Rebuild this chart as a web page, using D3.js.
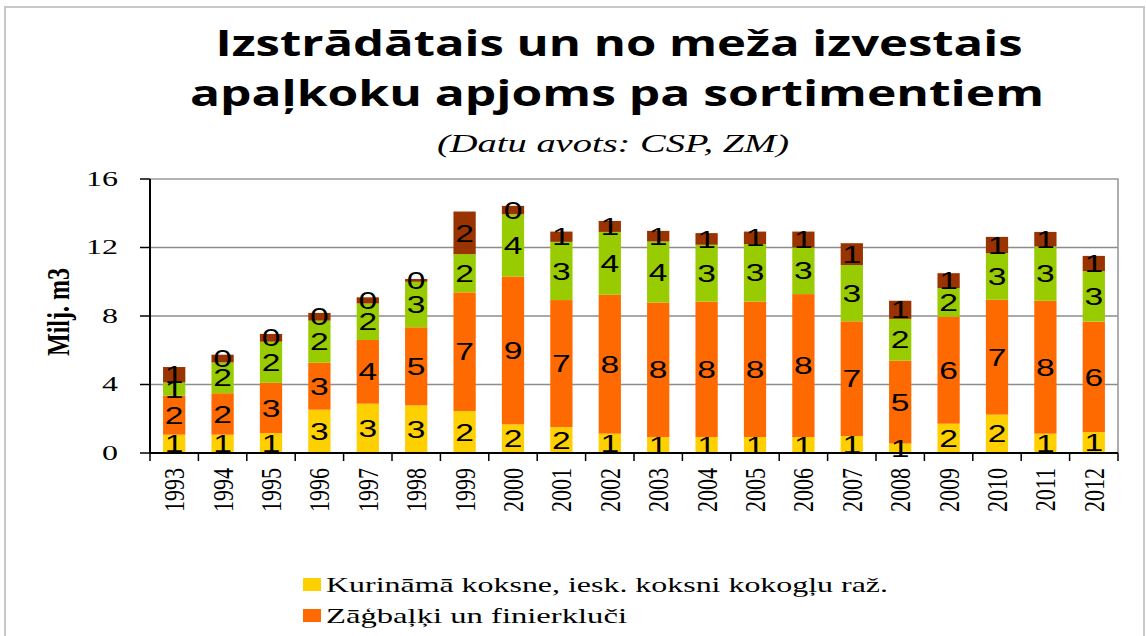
<!DOCTYPE html>
<html>
<head>
<meta charset="utf-8">
<script src="https://cdnjs.cloudflare.com/ajax/libs/d3/7.8.5/d3.min.js"></script>
<style>
body { margin: 0; background: #fff; }
</style>
</head>
<body>
<script>
// data (milj. m3)
var years = [1993, 1994, 1995, 1996, 1997, 1998, 1999, 2000, 2001, 2002,
             2003, 2004, 2005, 2006, 2007, 2008, 2009, 2010, 2011, 2012];
var kurinama   = [1.07, 1.07, 1.16, 2.53, 2.88, 2.78, 2.45, 1.67, 1.51, 1.13,
                  0.93, 0.93, 0.93, 0.93, 0.99, 0.55, 1.71, 2.24, 1.13, 1.22];
var zagbalki   = [2.29, 2.42, 2.94, 2.74, 3.72, 4.56, 6.93, 8.64, 7.42, 8.11,
                  7.86, 7.91, 7.91, 8.35, 6.70, 4.85, 6.25, 6.71, 7.76, 6.45];
var papirmalka = [0.76, 1.80, 2.40, 2.46, 2.13, 2.66, 2.23, 3.63, 3.40, 3.67,
                  3.56, 3.32, 3.36, 2.72, 3.28, 2.43, 1.67, 2.72, 3.17, 2.95];
var parejie    = [0.90, 0.45, 0.45, 0.45, 0.36, 0.16, 2.49, 0.49, 0.60, 0.64,
                  0.62, 0.68, 0.73, 0.93, 1.28, 1.06, 0.87, 0.95, 0.85, 0.89];
var seriesKeys = ["kurinama", "zagbalki", "papirmalka", "parejie"];
var seriesColors = ["#ffd000", "#ff6a00", "#99cc00", "#993300"];
var legendLabels = ["Kurināmā koksne, iesk. koksni kokogļu raž.", "Zāģbaļķi un finierkluči"];
var yTicks = [0, 4, 8, 12, 16];

var w = 1146, h = 636;
var sx = 1.4; // the picture is stretched sideways, text too

var svg = d3.select("body")
    .append("svg")
    .attr("width", w)
    .attr("height", h)
    .style("display", "block");

svg.append("rect").attr("width", w).attr("height", h).attr("fill", "#fff");

// outer frame (bottom is cut off)
svg.append("path")
    .attr("d", "M5," + h + "V7H1144V" + h)
    .attr("fill", "none")
    .attr("stroke", "#c8c8c8")
    .attr("stroke-width", 2);

// titles
var title = svg.append("g")
    .attr("font-family", "'Open Sans', sans-serif")
    .attr("font-weight", "bold")
    .attr("font-size", 35)
    .attr("text-anchor", "middle")
    .attr("fill", "#000");
title.append("text").attr("x", 619).attr("y", 56)
    .attr("textLength", 807).attr("lengthAdjust", "spacingAndGlyphs")
    .text("Izstrādātais un no meža izvestais");
title.append("text").attr("x", 617).attr("y", 106)
    .attr("textLength", 854).attr("lengthAdjust", "spacingAndGlyphs")
    .text("apaļkoku apjoms pa sortimentiem");
svg.append("text")
    .attr("x", 613).attr("y", 152)
    .attr("text-anchor", "middle")
    .attr("font-family", "'Liberation Serif', serif")
    .attr("font-style", "italic")
    .attr("font-size", 26)
    .attr("textLength", 352).attr("lengthAdjust", "spacingAndGlyphs")
    .text("(Datu avots: CSP, ZM)");

// scales
var x = d3.scaleBand()
    .domain(years)
    .range([150, 1118])
    .paddingInner(0.54)
    .paddingOuter(0.27);
var y = d3.scaleLinear()
    .domain([0, 16])
    .range([453, 179]);

// gridlines
svg.append("g").selectAll("line")
    .data(yTicks.slice(1, -1))
    .enter().append("line")
    .attr("x1", x.range()[0]).attr("x2", x.range()[1])
    .attr("y1", function (d) { return y(d); })
    .attr("y2", function (d) { return y(d); })
    .attr("stroke", "#8c8c8c")
    .attr("stroke-width", 1.6);

// plot border top / right
svg.append("path")
    .attr("d", "M" + x.range()[0] + "," + y(16) + "H" + x.range()[1] + "V" + y(0))
    .attr("fill", "none")
    .attr("stroke", "#9a9a9a")
    .attr("stroke-width", 1.6);

// stacked bars
var table = years.map(function (yr, i) {
    return { year: yr, kurinama: kurinama[i], zagbalki: zagbalki[i],
             papirmalka: papirmalka[i], parejie: parejie[i] };
});
var stacked = d3.stack().keys(seriesKeys)(table);

var layers = svg.append("g").selectAll("g")
    .data(stacked)
    .enter().append("g")
    .attr("fill", function (d, i) { return seriesColors[i]; });

layers.selectAll("rect")
    .data(function (d) { return d; })
    .enter().append("rect")
    .attr("x", function (d) { return x(d.data.year); })
    .attr("y", function (d) { return y(d[1]); })
    .attr("width", x.bandwidth())
    .attr("height", function (d) { return y(d[0]) - y(d[1]); });

// value labels
var labels = svg.append("g")
    .attr("font-family", "'Liberation Sans', Arial, sans-serif")
    .attr("font-size", 24)
    .attr("text-anchor", "middle")
    .attr("fill", "#000");
stacked.forEach(function (layer) {
    labels.selectAll(null)
        .data(layer)
        .enter().append("text")
        .attr("transform", function (d) {
            var cx = x(d.data.year) + x.bandwidth() / 2;
            var cy = (y(d[0]) + y(d[1])) / 2;
            return "translate(" + cx + "," + cy + ") scale(" + sx + ",1)";
        })
        .attr("dy", "0.36em")
        .text(function (d) { return Math.round(d[1] - d[0]); });
});

// y axis
var yAxis = svg.append("g");
yAxis.append("line")
    .attr("x1", 150).attr("x2", 150)
    .attr("y1", y(0)).attr("y2", y(16))
    .attr("stroke", "#000").attr("stroke-width", 2);
var yt = yAxis.selectAll("g")
    .data(yTicks)
    .enter().append("g")
    .attr("transform", function (d) { return "translate(150," + y(d) + ")"; });
yt.append("line").attr("x1", -10).attr("x2", 0)
    .attr("stroke", "#000").attr("stroke-width", 1.5);
yt.append("text")
    .attr("transform", "translate(-32,0) scale(1.6,1)")
    .attr("text-anchor", "end")
    .attr("dy", "0.34em")
    .attr("font-family", "'Liberation Serif', serif")
    .attr("font-size", 20)
    .text(function (d) { return d; });

svg.append("text")
    .attr("transform", "translate(58,312) scale(1.3,1) rotate(-90)")
    .attr("text-anchor", "middle")
    .attr("dy", "0.35em")
    .attr("font-family", "'Liberation Serif', serif")
    .attr("font-weight", "bold")
    .attr("font-size", 24)
    .text("Milj. m3");

// x axis
var xAxis = svg.append("g");
xAxis.append("line")
    .attr("x1", x.range()[0]).attr("x2", x.range()[1])
    .attr("y1", y(0)).attr("y2", y(0))
    .attr("stroke", "#000").attr("stroke-width", 2);
var bounds = years.map(function (d) { return x(d) - x.step() * x.paddingInner() / 2; });
bounds.push(x.range()[1]);
xAxis.selectAll("line.tick")
    .data(bounds)
    .enter().append("line")
    .attr("class", "tick")
    .attr("x1", function (d) { return d; }).attr("x2", function (d) { return d; })
    .attr("y1", y(0)).attr("y2", y(0) + 8)
    .attr("stroke", "#000").attr("stroke-width", 1.5);
xAxis.selectAll("text")
    .data(years)
    .enter().append("text")
    .attr("transform", function (d) {
        return "translate(" + (x(d) + x.bandwidth() / 2) + "," + (y(0) + 15) + ") scale(1.3,1) rotate(-90)";
    })
    .attr("text-anchor", "end")
    .attr("dy", "0.35em")
    .attr("font-family", "'Liberation Serif', serif")
    .attr("font-size", 22)
    .text(function (d) { return d; });

// legend (only the visible part)
var legend = svg.append("g").selectAll("g")
    .data(legendLabels)
    .enter().append("g")
    .attr("transform", function (d, i) { return "translate(303," + (578 + i * 31) + ")"; });
legend.append("rect")
    .attr("width", 18).attr("height", 13)
    .attr("fill", function (d, i) { return seriesColors[i]; });
legend.append("text")
    .attr("x", 23).attr("y", 14)
    .attr("font-family", "'Liberation Serif', serif")
    .attr("font-size", 21)
    .attr("textLength", function (d, i) { return i === 0 ? 562 : 301; })
    .attr("lengthAdjust", "spacingAndGlyphs")
    .text(function (d) { return d; });
</script>
</body>
</html>
